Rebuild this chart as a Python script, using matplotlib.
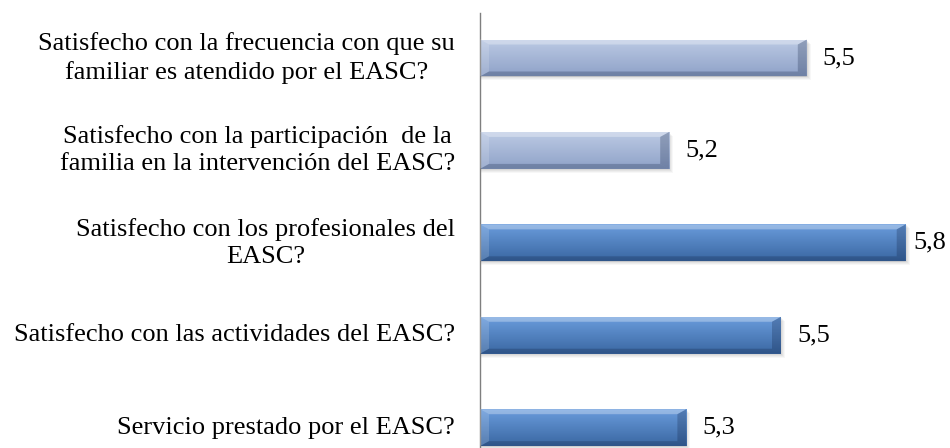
import matplotlib
matplotlib.use("Agg")
import matplotlib.pyplot as plt
from matplotlib.patches import Polygon, Rectangle
import numpy as np

preguntas = [
    "Satisfecho con la frecuencia con que su\nfamiliar es atendido por el EASC?",
    "Satisfecho con la participación  de la\nfamilia en la intervención del EASC?",
    "Satisfecho con los profesionales del\nEASC?",
    "Satisfecho con las actividades del EASC?",
    "Servicio prestado por el EASC?",
]
valores = [5.54, 5.22, 5.77, 5.48, 5.26]

# degradado (arriba, abajo) de cada barra
claro = ("#bccae4", "#8fa2c8")
oscuro = ("#6a9cdc", "#3a67a2")
colores = [claro, claro, oscuro, oscuro, oscuro]

plt.rcParams["font.family"] = ["Liberation Serif", "DejaVu Serif"]

fig = plt.figure(figsize=(9.5, 4.48), dpi=100)
ax = fig.add_axes([480 / 950, 0, 1 - 480 / 950, (448 - 13) / 448])
xmin = 4.78
ax.set_xlim(xmin, xmin + 470 / 430)
ax.set_ylim(4.22, -0.487)

alto = 0.4
barras = ax.barh(range(len(valores)), [v - xmin for v in valores], left=xmin,
                 height=alto, color="none", edgecolor="none")

def mezcla(c1, c2, n):
    a = np.array(matplotlib.colors.to_rgb(c1))
    b = np.array(matplotlib.colors.to_rgb(c2))
    t = np.linspace(0, 1, n)[:, None]
    return (a * (1 - t) + b * t)[:, None, :]

dx = 9 / 430
dy = 5 / 92.4
etiquetas = []
for i, (b, v) in enumerate(zip(barras, valores)):
    x0, x1 = xmin, v
    yt, yb = i - alto / 2, i + alto / 2
    # sombra suave
    for k, a in [(4, 0.04), (3, 0.05), (2, 0.06), (1, 0.07)]:
        ax.add_patch(Rectangle((x0, yt + k * 1.0 / 92.4), x1 - x0 + k * 1.0 / 430, alto,
                               color="#444444", alpha=a, lw=0, zorder=1))
    img = ax.imshow(mezcla(colores[i][0], colores[i][1], 64),
                    extent=(x0, x1, yb, yt), aspect="auto", origin="upper", zorder=2)
    img.set_clip_path(Rectangle((x0, yt), x1 - x0, alto, transform=ax.transData))
    # bisel
    ax.add_patch(Polygon([(x0, yt), (x1, yt), (x1 - dx, yt + dy), (x0 + dx, yt + dy)],
                         color="white", alpha=0.3, lw=0, zorder=3))
    ax.add_patch(Polygon([(x0, yt), (x0 + dx, yt + dy), (x0 + dx, yb - dy), (x0, yb)],
                         color="white", alpha=0.15, lw=0, zorder=3))
    ax.add_patch(Polygon([(x0, yb), (x1, yb), (x1 - dx, yb - dy), (x0 + dx, yb - dy)],
                         color="#102040", alpha=0.25, lw=0, zorder=3))
    ax.add_patch(Polygon([(x1, yt), (x1, yb), (x1 - dx, yb - dy), (x1 - dx, yt + dy)],
                         color="#102040", alpha=0.25, lw=0, zorder=3))
    t = ax.text(v + 16 / 430, i, f"{v:.1f}".replace(".", ","), va="center", ha="left",
                fontsize=19, color="black", clip_on=False)
    etiquetas.append(t)

# etiquetas de categoria
for i, p in enumerate(preguntas):
    ax.text(-25 / 470, i, p, transform=ax.get_yaxis_transform(), ha="right", va="center",
            multialignment="center", linespacing=1.3, fontsize=19, clip_on=False)

ax.set_yticks([])
ax.set_xticks([])
for s in ["top", "right", "bottom"]:
    ax.spines[s].set_visible(False)
ax.spines["left"].set_color("#7f7f7f")
ax.spines["left"].set_linewidth(1)

# como Excel: si una etiqueta no cabe, se acerca a la barra
fig.canvas.draw()
r = fig.canvas.get_renderer()
for t in etiquetas:
    bb = t.get_window_extent(r)
    if bb.x1 > 946:
        x, y = t.get_position()
        t.set_position((x - (bb.x1 - 946) / 430, y))

fig.savefig("out.png", dpi=100)
